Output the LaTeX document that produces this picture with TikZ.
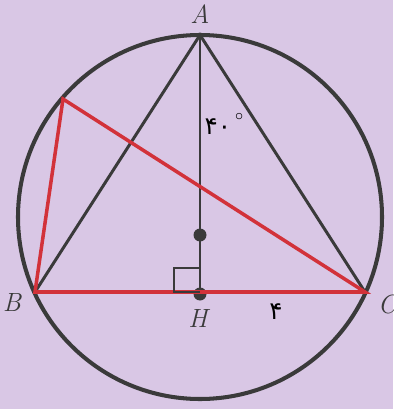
\documentclass[tikz,border=0pt]{standalone}
\usepackage{fontspec}
\newfontfamily\arabicfont[Script=Arabic]{DejaVu Sans}
\usetikzlibrary{positioning}
\definecolor{figbg}{HTML}{D9C7E5}
\definecolor{figline}{HTML}{3A3A3A}
\definecolor{figred}{HTML}{D2323A}

\begin{document}
\begin{tikzpicture}[
  x=0.02cm, y=-0.02cm,
  circ/.style={draw=figline, line width=2.3pt},
  side/.style={draw=figline, line width=1.7pt, line cap=round},
  alt/.style={draw=figline, line width=1.3pt},
  rside/.style={draw=figred, line width=2pt, line join=miter},
  pdot/.style={circle, fill=figline, inner sep=0pt, minimum size=2.6mm},
  vlab/.style={font=\fontsize{15}{18}\selectfont\itshape, text=figline, inner sep=0pt},
  nlab/.style={font=\fontsize{14}{17}\arabicfont, text=black, inner sep=0pt}
]
\fill[figbg] (0,0) rectangle (393,409);
\useasboundingbox (0,0) rectangle (393,409);
% points
\coordinate (O) at (200,217);
\coordinate (A) at (200,35);
\coordinate (B) at (35,292);
\coordinate (C) at (365,292);
\coordinate (D) at (63,99);
\node[pdot] (H) at (200,294) {};
\node[pdot] (M) at (200,235) {};
% circle and triangle
\draw[circ] (O) circle[radius=182];
\draw[side] (B) -- (A) -- (C);
\draw[alt] (A) -- (H.center);
% red triangle
\draw[rside] (D) -- (B) -- (C) -- cycle;
% right angle
\draw[alt, line width=1.7pt] (200,268) -- (174,268) -- (174,292) -- (200,292);
% labels
\node[vlab] (la) at (200,14) {A};
\node[vlab] (lb) at (12,302) {B};
\node[vlab] (lc) at (387,304) {C};
\node[vlab] (lh) at (198,318) {H};
\node[nlab] (ang) at (224,124) {۴۰\,\raisebox{1.1ex}{\fontsize{9}{9}\selectfont$\circ$}};
\node[nlab] (len) at (276,312) {۴};
\end{tikzpicture}
\end{document}
